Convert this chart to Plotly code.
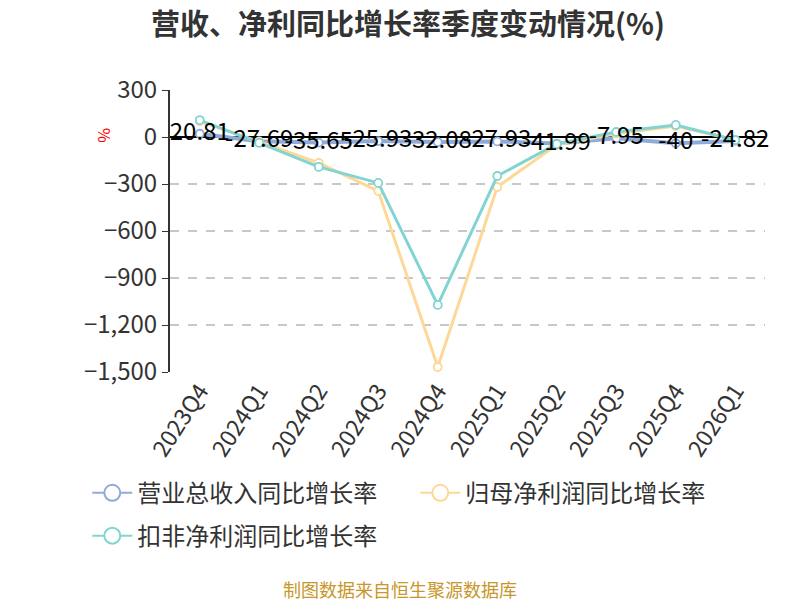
import plotly.graph_objects as go

quarters = ["2023Q4", "2024Q1", "2024Q2", "2024Q3", "2024Q4",
            "2025Q1", "2025Q2", "2025Q3", "2025Q4", "2026Q1"]
revenue_yoy = [20.81, -27.69, -35.65, -25.93, -32.08, -27.93, -41.99, -7.95, -40, -24.82]
parent_profit_yoy = [100, -30, -166, -345, -1468, -319, -50, 20, 70, -20]
deducted_profit_yoy = [108, -38, -191, -293, -1072, -249, -45, 32, 77, -19]
y_ticks = [300, 0, -300, -600, -900, -1200, -1500]

series = [
    ("营业总收入同比增长率", revenue_yoy, "#8fabd9", 4, "legend"),
    ("归母净利润同比增长率", parent_profit_yoy, "#fdd897", 3, "legend"),
    ("扣非净利润同比增长率", deducted_profit_yoy, "#82d4d3", 3, "legend2"),
]

font = "Noto Sans CJK SC"
fig = go.Figure()

for name, vals, color, width, _ in series:
    fig.add_trace(go.Scatter(
        x=quarters, y=vals, mode="lines+markers", name=name, showlegend=False,
        line=dict(color=color, width=width),
        marker=dict(size=8, color="white", line=dict(color=color, width=1.8)),
        cliponaxis=False,
    ))

# legend-only entries with bigger circles
for name, vals, color, width, leg in series:
    fig.add_trace(go.Scatter(
        x=[None], y=[None], mode="lines+markers", name=name, legend=leg,
        line=dict(color=color, width=2),
        marker=dict(size=16, color="white", line=dict(color=color, width=2)),
    ))

# data labels of the revenue series, drawn above all lines
fig.add_trace(go.Scatter(
    x=quarters, y=revenue_yoy, mode="text", showlegend=False,
    text=[f"{v:g}" for v in revenue_yoy], textposition="middle center",
    textfont=dict(family=font, size=24, color="#000000"),
    cliponaxis=False,
))

legend_style = dict(orientation="h", x=-0.139, xanchor="left", yanchor="top",
                    font=dict(size=24, color="#333333"), entrywidth=273, itemwidth=40)

# page is shown with an 8px body offset, so coordinates below are shifted by 8px
fig.update_layout(
    width=800, height=600,
    paper_bgcolor="white", plot_bgcolor="white",
    margin=dict(l=162, r=43, t=82, b=236),
    title=dict(text="<b>营收、净利同比增长率季度变动情况(%)</b>", x=0.5, xanchor="center",
               y=0.972, yanchor="middle", font=dict(family=font, size=29, color="#333333")),
    font=dict(family=font, color="#333333"),
    xaxis=dict(type="category", tickangle=-57, tickfont=dict(size=23, color="#333333"),
               showgrid=False, showline=False, ticks="", range=[-0.5, 9.5]),
    yaxis=dict(range=[-1500, 300], tickvals=y_ticks, tickformat=",",
               tickfont=dict(size=24, color="#333333"),
               showline=True, linecolor="#333333", linewidth=2,
               ticks="outside", ticklen=6, tickcolor="#333333",
               gridcolor="#c8c8c8", griddash="dash", gridwidth=1.5,
               zeroline=True, zerolinecolor="#000000", zerolinewidth=1.5),
    legend=dict(y=-0.35, **legend_style),
    legend2=dict(y=-0.502, **legend_style),
    annotations=[
        dict(text="%", xref="paper", yref="paper", x=-0.109, y=0.84, showarrow=False,
             xanchor="center", yanchor="middle",
             textangle=90, font=dict(family=font, size=16, color="red")),
        dict(text="制图数据来自恒生聚源数据库", xref="paper", yref="paper", x=0.387, y=-0.77,
             xanchor="center", yanchor="middle", showarrow=False,
             font=dict(family=font, size=18, color="#c8962a")),
    ],
)

fig.write_html("out.html")
